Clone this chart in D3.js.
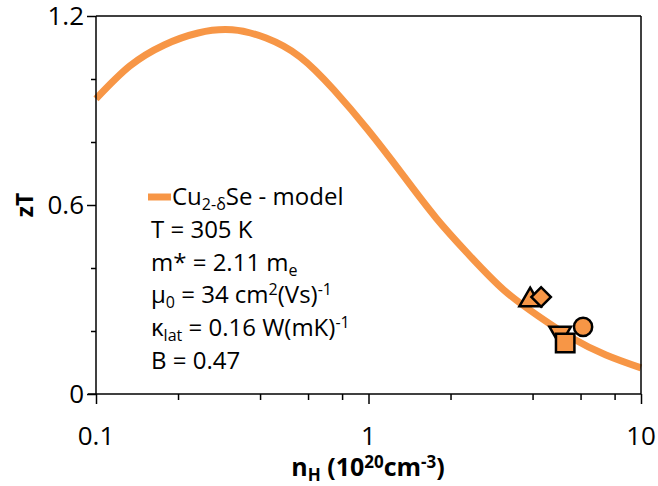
<!DOCTYPE html>
<html>
<head>
<meta charset="utf-8">
<script src="https://cdn.jsdelivr.net/npm/d3@7"></script>
<style>
body { margin: 0; background: #fff; }
text { font-family: "Open Sans", "Noto Sans", sans-serif; fill: #000; }
</style>
</head>
<body>
<svg id="chart"></svg>
<script>
// model curve (1/8 decade apart)
var modelN  = [0.1, 0.133, 0.178, 0.237, 0.316, 0.421, 0.561, 0.747, 0.996, 1.33, 1.77, 2.36, 3.14, 4.19, 5.58, 7.44, 10];
var modelZT = [0.937, 1.041, 1.108, 1.146, 1.156, 1.130, 1.070, 0.965, 0.838, 0.698, 0.559, 0.438, 0.330, 0.248, 0.178, 0.124, 0.083];

// measured samples
var sampleN     = [3.92, 4.30, 5.05, 5.27, 6.13];
var sampleZT    = [0.298, 0.308, 0.194, 0.162, 0.213];
var sampleShape = ["triangle", "diamond", "triangleDown", "square", "circle"];

var yTicks = [0, 0.2, 0.4, 0.6, 0.8, 1.0, 1.2];
var yLabels = [0, 0.6, 1.2];
var xMajor = [0.1, 1, 10];
var xMinor = [0.2, 0.4, 0.6, 0.8, 2, 4, 6, 8];

// each line: [text, kind] pieces, kind: 0 normal, 1 subscript, 2 superscript
var legendTitle = [["Cu", 0], ["2-δ", 1], ["Se - model", 0]];
var legendLines = [
    [["T = 305 K", 0]],
    [["m* = 2.11 m", 0], ["e", 1]],
    [["μ", 0], ["0", 1], [" = 34 cm", 0], ["2", 2], ["(Vs)", 0], ["-1", 2]],
    [["κ", 0], ["lat", 1], [" = 0.16 W(mK)", 0], ["-1", 2]],
    [["B = 0.47", 0]]
];
var xTitle = [["n", 0], ["H", 1], [" (10", 0], ["20", 2], ["cm", 0], ["-3", 2], [")", 0]];

var W = 658, H = 486;
var orange = "#f79646";
var svg = d3.select("#chart").attr("width", W).attr("height", H);

var x = d3.scaleLog().domain([0.1, 10]).range([96, 641]);
var y = d3.scaleLinear().domain([0, 1.2]).range([394, 16]);

function richText(sel, pieces, big, small) {
    var shift = 0;
    pieces.forEach(function(p) {
        var t = sel.append("tspan").text(p[0]);
        var dy = 0;
        if (p[1] === 1) dy = small * 0.3;
        if (p[1] === 2) dy = -big * 0.33;
        if (p[1]) t.style("font-size", small + "px");
        t.attr("dy", dy - shift);
        shift = dy;
    });
}

// curve
var line = d3.line()
    .x(function(d, i) { return x(modelN[i]); })
    .y(function(d) { return y(d); })
    .curve(d3.curveNatural);
svg.append("path")
    .attr("d", line(modelZT))
    .attr("fill", "none")
    .attr("stroke", orange)
    .attr("stroke-width", 7);

// frame
svg.append("line").attr("x1", 96).attr("x2", 641).attr("y1", 16).attr("y2", 16).attr("stroke", "#000").attr("stroke-width", 1.5);
svg.append("line").attr("x1", 641).attr("x2", 641).attr("y1", 16).attr("y2", 394).attr("stroke", "#000").attr("stroke-width", 1.5);

// y axis
var yAxis = svg.append("g").attr("transform", "translate(96,0)")
    .call(d3.axisLeft(y).tickValues(yTicks).tickSize(5).tickFormat(""));
yAxis.selectAll(".tick line").filter(function(d) { return yLabels.indexOf(d) >= 0; }).attr("x2", -9);
yAxis.select(".domain").attr("d", "M0,16V394");
svg.selectAll(".ylab").data(yLabels).enter().append("text")
    .attr("x", 84).attr("y", function(d) { return y(d); })
    .attr("dy", "0.36em")
    .attr("text-anchor", "end")
    .style("font-size", "26px")
    .text(function(d) { return d === 0 ? "0" : d.toFixed(1); });

// x axis
var xAxisMinor = svg.append("g").attr("transform", "translate(0,394)")
    .call(d3.axisBottom(x).tickValues(xMinor).tickSize(6).tickFormat(""));
xAxisMinor.select(".domain").remove();
var xAxis = svg.append("g").attr("transform", "translate(0,394)")
    .call(d3.axisBottom(x).tickValues(xMajor).tickSize(10).tickFormat(""));
xAxis.select(".domain").attr("d", "M88,0H641");
svg.selectAll("g line, g path").attr("stroke", "#000").attr("stroke-width", 1.5);
svg.selectAll(".xlab").data(xMajor).enter().append("text")
    .attr("x", function(d) { return x(d); }).attr("y", 445)
    .attr("text-anchor", "middle")
    .style("font-size", "26px")
    .text(function(d) { return d; });

// axis titles
var xt = svg.append("text").attr("x", 368).attr("y", 476).attr("text-anchor", "middle")
    .style("font-size", "25px").style("font-weight", "bold");
richText(xt, xTitle, 25, 17);

svg.append("text").attr("transform", "translate(33,205) rotate(-90)")
    .attr("text-anchor", "middle")
    .style("font-size", "23px").style("font-weight", "bold")
    .text("zT");

// samples
var sym = {
    triangle: d3.symbol().type(d3.symbolTriangle).size(200),
    triangleDown: d3.symbol().type(d3.symbolTriangle).size(200),
    diamond: d3.symbol().type(d3.symbolSquare).size(190),
    square: d3.symbol().type(d3.symbolSquare).size(340),
    circle: d3.symbol().type(d3.symbolCircle).size(260)
};
var rot = { triangle: 0, triangleDown: 180, diamond: 45, square: 0, circle: 0 };
svg.selectAll(".pt").data(sampleZT).enter().append("path")
    .attr("transform", function(d, i) {
        return "translate(" + x(sampleN[i]) + "," + y(d) + ") rotate(" + rot[sampleShape[i]] + ")";
    })
    .attr("d", function(d, i) { return sym[sampleShape[i]](); })
    .attr("fill", orange)
    .attr("stroke", "#000")
    .attr("stroke-width", 2.5);

// legend
svg.append("line").attr("x1", 148).attr("x2", 171).attr("y1", 197).attr("y2", 197)
    .attr("stroke", orange).attr("stroke-width", 7);
var lt = svg.append("text").attr("x", 172).attr("y", 205).style("font-size", "24px");
richText(lt, legendTitle, 24, 16);

legendLines.forEach(function(s, i) {
    var t = svg.append("text").attr("x", 151).attr("y", 238 + i * 32.7).style("font-size", "24px");
    richText(t, s, 24, 16);
});
</script>
</body>
</html>
